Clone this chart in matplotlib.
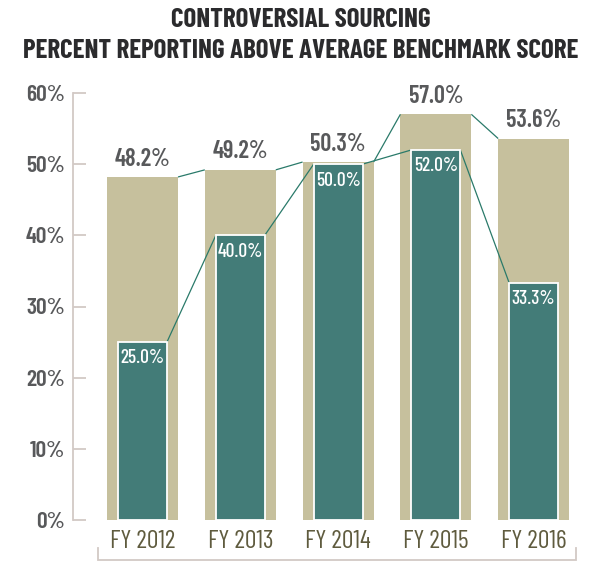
import numpy as np
import matplotlib
matplotlib.use('Agg')
import matplotlib.pyplot as plt

# data
years = ['FY 2012', 'FY 2013', 'FY 2014', 'FY 2015', 'FY 2016']
benchmark = [48.2, 49.2, 50.3, 57.0, 53.6]
reporting = [25.0, 40.0, 50.0, 52.0, 33.3]
yticks = [0, 10, 20, 30, 40, 50, 60]

TAN = '#c6c09d'
TEAL = '#437c78'
LINE = '#2a7a6a'
GREY = '#58595b'
OLIVE = '#5f5b3e'
AXC = '#d2c9c5'
FONT = ['Barlow Condensed', 'Oswald', 'DejaVu Sans']
plt.rcParams['font.family'] = FONT

W, H = 601, 565
fig = plt.figure(figsize=(W / 100, H / 100), dpi=100)
# axes frame in pixels: left 73, right 590, top 93, bottom 520
ax = fig.add_axes([73 / W, 1 - 520 / H, (590 - 73) / W, (520 - 93) / H])

x = np.arange(len(years))
wt, wi = 0.726, 0.50

ax.bar(x, benchmark, width=wt, color=TAN, zorder=1)
ax.bar(x, reporting, width=wi, color=TEAL, edgecolor='white', linewidth=1.3, zorder=3)

# connector lines: right top corner of one bar to left top corner of the next
for vals, w in ((benchmark, wt), (reporting, wi)):
    for i in range(len(vals) - 1):
        ax.plot([x[i] + w / 2, x[i + 1] - w / 2], [vals[i], vals[i + 1]],
                color=LINE, lw=0.9, zorder=2, solid_capstyle='butt')

for i in range(len(years)):
    ax.text(x[i], benchmark[i] + 0.9, f'{benchmark[i]:.1f}%', ha='center', va='bottom',
            fontsize=17.5, fontweight=600, color=GREY, zorder=5)
    ax.text(x[i], reporting[i] - 2.3, f'{reporting[i]:.1f}%', ha='center', va='center',
            fontsize=14, fontweight=500, color='white', zorder=5)

ax.set_xlim(-0.7106, 4.576)
ax.set_ylim(0, 60)
for s in ['top', 'right', 'bottom']:
    ax.spines[s].set_visible(False)
ax.spines['left'].set_color(AXC)
ax.spines['left'].set_linewidth(1.3)
ax.set_yticks(yticks)
ax.set_yticklabels([f'{v}%' for v in yticks])
ax.tick_params(axis='y', direction='in', length=9, width=1.3, color=AXC, pad=6,
               labelsize=17, labelcolor=GREY)
for t in ax.get_yticklabels():
    t.set_fontweight(600)
ax.set_xticks(x)
ax.set_xticklabels(years)
ax.tick_params(axis='x', length=0, pad=7, labelsize=18.5, labelcolor=OLIVE)
for t in ax.get_xticklabels():
    t.set_fontweight(400)

# bracket under the category labels
bl, br = x[0] - 0.455, x[-1] + 0.432
ax.plot([bl, bl, br, br], [-3.9, -5.62, -5.62, -3.9], color=AXC, lw=1.3,
        clip_on=False, solid_joinstyle='miter')

fig.text(0.5, 1 - 20 / H, 'CONTROVERSIAL SOURCING', ha='center', va='center',
         fontsize=19.5, fontweight=700, color='#2b2b2d')
fig.text(0.5, 1 - 51 / H, 'PERCENT REPORTING ABOVE AVERAGE BENCHMARK SCORE', ha='center',
         va='center', fontsize=19.5, fontweight=700, color='#2b2b2d')

fig.savefig('out.png', dpi=100)
